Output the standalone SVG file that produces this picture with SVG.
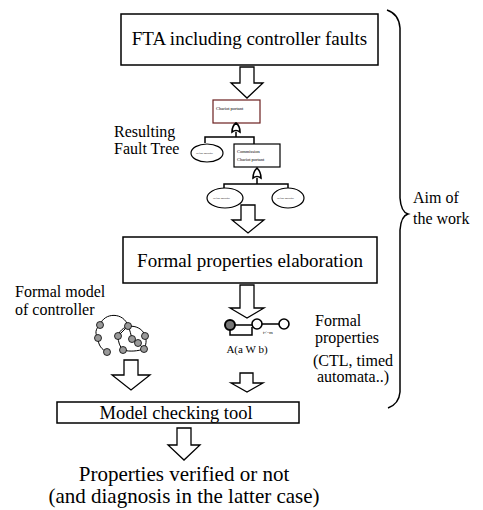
<svg xmlns="http://www.w3.org/2000/svg" width="483" height="510" viewBox="0 0 483 510">
<style>
.box{fill:#fff;stroke:#000;stroke-width:1.5}
.t{font-family:"Liberation Serif","Times New Roman",serif;fill:#000}
.arr{fill:#fff;stroke:#000;stroke-width:1.3;stroke-linejoin:miter}
.ln{fill:none;stroke:#000;stroke-width:1.5}
.ftbox{fill:#fff;stroke:#000;stroke-width:1.2}
.ell{fill:#fff;stroke:#000;stroke-width:1.2}
.tiny{font-family:"Liberation Serif",serif;font-size:4.5px;fill:#000}
.micro{font-family:"Liberation Serif",serif;font-size:2.6px;fill:#000}
.gn{fill:#999;stroke:#000;stroke-width:0.8}
.ge{fill:none;stroke:#000;stroke-width:1}
</style>
<g id="connectors">
<path class="arr" d="M240,67 h14 v16 h9 l-16,15 l-16,-15 h9 z"/>
<path class="arr" d="M241,205 h14 v15 h9 l-16,13 l-16,-13 h9 z"/>
<path class="arr" d="M240,285 h14 v23 h10 l-17,10 l-17,-10 h10 z"/>
<path class="arr" d="M240,373 h13 v10 h10 l-16,9 l-16,-9 h9 z"/>
<path class="arr" d="M124,360 h14 v15 h12 l-19,15 l-19,-15 h12 z"/>
<path class="arr" d="M177,428 h14 v17 h9 l-16,15 l-16,-15 h9 z"/>
<path class="ln" d="M387,10 Q399,14 400,28 L400,198 Q401,212 408,214 Q401,216 400,230 L400,392 Q399,404 388,408"/>
</g>
<g id="fta">
<rect class="box" x="121" y="14" width="257" height="51"/>
<text class="t" x="249.5" y="45" font-size="19" text-anchor="middle">FTA including controller faults</text>
</g>
<g id="fault-tree">
<rect x="213" y="100" width="47" height="23" fill="#fff" stroke="#6b1f1f" stroke-width="1.2"/>
<text class="tiny" x="216" y="110">Chariot portant</text>
<path d="M232,132 Q232,126 236,123 Q240,126 240,132 Q236,129 232,132 Z" fill="#fff" stroke="#000" stroke-width="1.6"/>
<path class="ln" d="M236,132 V137 M205,143 V137 H254 V144"/>
<ellipse class="ell" cx="207" cy="153" rx="16" ry="9"/>
<text class="micro" x="196" y="154">Défaut physique</text>
<rect class="ftbox" x="234" y="144" width="46" height="23"/>
<text class="tiny" x="237" y="153">Commission</text>
<text class="tiny" x="237" y="161">Chariot portant</text>
<path d="M253,178 Q253,172 257,168 Q261,172 261,178 Q257,175 253,178 Z" fill="#fff" stroke="#000" stroke-width="1.6"/>
<path class="ln" d="M257,178 V184 M224,188 V184 H288 V188"/>
<ellipse class="ell" cx="225" cy="198" rx="18" ry="10"/>
<text class="micro" x="213" y="199">Défaut physique</text>
<ellipse class="ell" cx="288" cy="198" rx="16" ry="10"/>
<text class="micro" x="277" y="199">Défaut physique</text>
</g>
<g id="resulting-label">
<text class="t" x="114" y="137" font-size="16">Resulting</text>
<text class="t" x="114" y="154" font-size="16">Fault Tree</text>
</g>
<g id="formal-elab">
<rect class="box" x="123" y="237" width="254" height="46"/>
<text class="t" x="250" y="267" font-size="19" text-anchor="middle">Formal properties elaboration</text>
</g>
<g id="controller-model">
<text class="t" x="15" y="297" font-size="16">Formal model</text>
<text class="t" x="15" y="315" font-size="16">of controller</text>
<path class="ge" d="M100,325 C104,312 124,312 128,326 M100,325 C95,329 95,334 98,338 M98,338 C98,345 102,350 107,352 M128,326 C130,330 131,335 132,339 M118,336 C122,322 142,324 145,336 M118,336 C118,342 120,347 123,350 M123,350 C130,352 138,351 144,349 M145,336 C147,340 146,345 144,349 M132,339 L138,343 L144,349 M128,326 L118,336"/>
<circle class="gn" cx="100" cy="325" r="3.5"/>
<circle class="gn" cx="128" cy="326" r="3.5"/>
<circle class="gn" cx="98" cy="338" r="3.5"/>
<circle class="gn" cx="107" cy="352" r="3.5"/>
<circle class="gn" cx="118" cy="336" r="3.5"/>
<circle class="gn" cx="132" cy="339" r="3.5"/>
<circle class="gn" cx="145" cy="336" r="3.5"/>
<circle class="gn" cx="123" cy="350" r="3.5"/>
<circle class="gn" cx="144" cy="349" r="3.5"/>
<circle class="gn" cx="138" cy="343" r="3.5"/>
</g>
<g id="formal-properties">
<path class="ln" d="M235,325 H252 M262,324 H279 M230,330 V335 H252 V327"/>
<circle cx="230" cy="325" r="5" fill="#777" stroke="#000" stroke-width="2"/>
<circle cx="257" cy="324" r="5" fill="#fff" stroke="#000" stroke-width="1.6"/>
<circle cx="284" cy="324" r="5" fill="#fff" stroke="#000" stroke-width="1.6"/>
<text class="tiny" x="263" y="334" font-size="4">t&lt;=m</text>
<text class="t" x="247" y="353" font-size="11" text-anchor="middle">A(a W b)</text>
<text class="t" x="315" y="326" font-size="16">Formal</text>
<text class="t" x="315" y="343" font-size="16">properties</text>
<text class="t" x="313" y="366" font-size="16">(CTL, timed</text>
<text class="t" x="317" y="382" font-size="16">automata..)</text>
</g>
<g id="aim">
<text class="t" x="413" y="203" font-size="16">Aim of</text>
<text class="t" x="413" y="224" font-size="16">the work</text>
</g>
<g id="model-checking">
<rect class="box" x="57" y="402" width="242" height="21"/>
<text class="t" x="176" y="419" font-size="18.5" text-anchor="middle">Model checking tool</text>
</g>
<g id="result">
<text class="t" x="184" y="481" font-size="21" text-anchor="middle">Properties verified or not</text>
<text class="t" x="184" y="503" font-size="21" text-anchor="middle">(and diagnosis in the latter case)</text>
</g>
</svg>
